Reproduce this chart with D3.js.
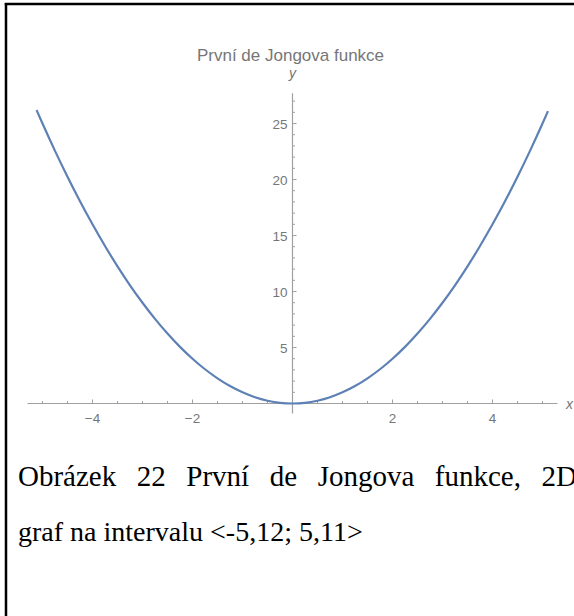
<!DOCTYPE html>
<html>
<head>
<meta charset="utf-8">
<script src="https://cdn.jsdelivr.net/npm/d3@7"></script>
<style>
html,body{margin:0;padding:0;background:#fff;}
svg{display:block;}
</style>
</head>
<body>
<svg id="chart" width="574" height="616"></svg>
<script>
// ---- data ----
const title = "První de Jongova funkce";
const xValues = [-5.12,-5,-4.75,-4.5,-4.25,-4,-3.75,-3.5,-3.25,-3,-2.75,-2.5,-2.25,-2,-1.75,-1.5,-1.25,-1,-0.75,-0.5,-0.25,0,0.25,0.5,0.75,1,1.25,1.5,1.75,2,2.25,2.5,2.75,3,3.25,3.5,3.75,4,4.25,4.5,4.75,5,5.11];
const yValues = [26.21,25,22.56,20.25,18.06,16,14.06,12.25,10.56,9,7.56,6.25,5.06,4,3.06,2.25,1.56,1,0.56,0.25,0.06,0,0.06,0.25,0.56,1,1.56,2.25,3.06,4,5.06,6.25,7.56,9,10.56,12.25,14.06,16,18.06,20.25,22.56,25,26.11];
const xMajorTicks = [-4,-2,2,4];
const xMinorTicks = [-5,-4.5,-3.5,-3,-2.5,-1.5,-1,-0.5,0.5,1,1.5,2.5,3,3.5,4.5,5];
const yMajorTicks = [5,10,15,20,25];
const yMinorTicks = [1,2,3,4,6,7,8,9,11,12,13,14,16,17,18,19,21,22,23,24,26,27];
const captionLine1 = "Obrázek 22 První de Jongova funkce, 2D";
const captionLine2 = "graf na intervalu <-5,12; 5,11>";

const svg = d3.select("#chart");
const x = d3.scaleLinear().domain([-5.3, 5.3]).range([27.5, 557.5]);
const y = d3.scaleLinear().domain([-0.9, 27.7]).range([413.6, 93.3]);

const axisColor = "#a0a0a0";
const labelColor = "#767676";
const sans = "'Liberation Sans', Arial, sans-serif";

// frame lines (left + top)
svg.append("line").attr("x1",6).attr("x2",6).attr("y1",3).attr("y2",616).attr("stroke","#000").attr("stroke-width",2.5);
svg.append("line").attr("x1",4.75).attr("x2",574).attr("y1",4).attr("y2",4).attr("stroke","#000").attr("stroke-width",2.5);

// x axis
const gx = svg.append("g").attr("transform", `translate(0,${y(0)})`);
gx.append("line").attr("x1", x.range()[0]).attr("x2", x.range()[1]).attr("stroke", axisColor).attr("stroke-width",1.2);
gx.selectAll(".xmin").data(xMinorTicks).join("line")
  .attr("x1", d=>x(d)).attr("x2", d=>x(d)).attr("y1",0).attr("y2",-2.5)
  .attr("stroke", axisColor);
gx.selectAll(".xmaj").data(xMajorTicks).join("line")
  .attr("x1", d=>x(d)).attr("x2", d=>x(d)).attr("y1",0).attr("y2",-4)
  .attr("stroke", axisColor);
gx.selectAll(".xlab").data(xMajorTicks).join("text")
  .attr("x", d=>x(d)).attr("y", 19)
  .attr("text-anchor","middle")
  .attr("font-family", sans).attr("font-size", 13.5).attr("fill", labelColor)
  .text(d => String(d).replace("-", "\u2212"));
gx.append("text").attr("x", 566).attr("y", 5).attr("font-family", sans)
  .attr("font-style","italic").attr("font-size",14).attr("fill",labelColor).text("x");

// y axis
const gy = svg.append("g").attr("transform", `translate(${x(0)},0)`);
gy.append("line").attr("y1", y.range()[0]).attr("y2", y.range()[1]).attr("stroke", axisColor).attr("stroke-width",1.2);
gy.selectAll(".ymin").data(yMinorTicks).join("line")
  .attr("y1", d=>y(d)).attr("y2", d=>y(d)).attr("x1",0).attr("x2",2.5)
  .attr("stroke", axisColor);
gy.selectAll(".ymaj").data(yMajorTicks).join("line")
  .attr("y1", d=>y(d)).attr("y2", d=>y(d)).attr("x1",0).attr("x2",4)
  .attr("stroke", axisColor);
gy.selectAll(".ylab").data(yMajorTicks).join("text")
  .attr("x", -5).attr("y", d=>y(d)+5)
  .attr("text-anchor","end")
  .attr("font-family", sans).attr("font-size", 13.5).attr("fill", labelColor)
  .text(d=>d);
gy.append("text").attr("x", 0).attr("y", 78).attr("text-anchor","middle").attr("font-family", sans)
  .attr("font-style","italic").attr("font-size",14).attr("fill",labelColor).text("y");

// title
svg.append("text").attr("x", x(0)-2).attr("y", 61).attr("text-anchor","middle")
  .attr("font-family", sans).attr("font-size", 17).attr("fill", labelColor).text(title);

// curve
const pts = xValues.map((v,i)=>[v, yValues[i]]);
const line = d3.line().x(d=>x(d[0])).y(d=>y(d[1])).curve(d3.curveMonotoneX);
svg.append("path").datum(pts).attr("d", line).attr("fill","none")
  .attr("stroke","#5E81B5").attr("stroke-width",2.2).attr("stroke-linejoin","round");

// caption (line 1 justified)
const serif = "'Liberation Serif', 'Times New Roman', serif";
const c1 = svg.append("text").attr("x", 18).attr("y", 486)
  .attr("font-family", serif).attr("font-size", 29).attr("fill","#000").text(captionLine1);
const natural = c1.node().getComputedTextLength();
const gaps = captionLine1.split(" ").length - 1;
const target = 577 - 18;
c1.attr("word-spacing", Math.max(0, (target - natural)/gaps).toFixed(2));
svg.append("text").attr("x", 18).attr("y", 541)
  .attr("font-family", serif).attr("font-size", 28).attr("fill","#000").text(captionLine2);
</script>
</body>
</html>
